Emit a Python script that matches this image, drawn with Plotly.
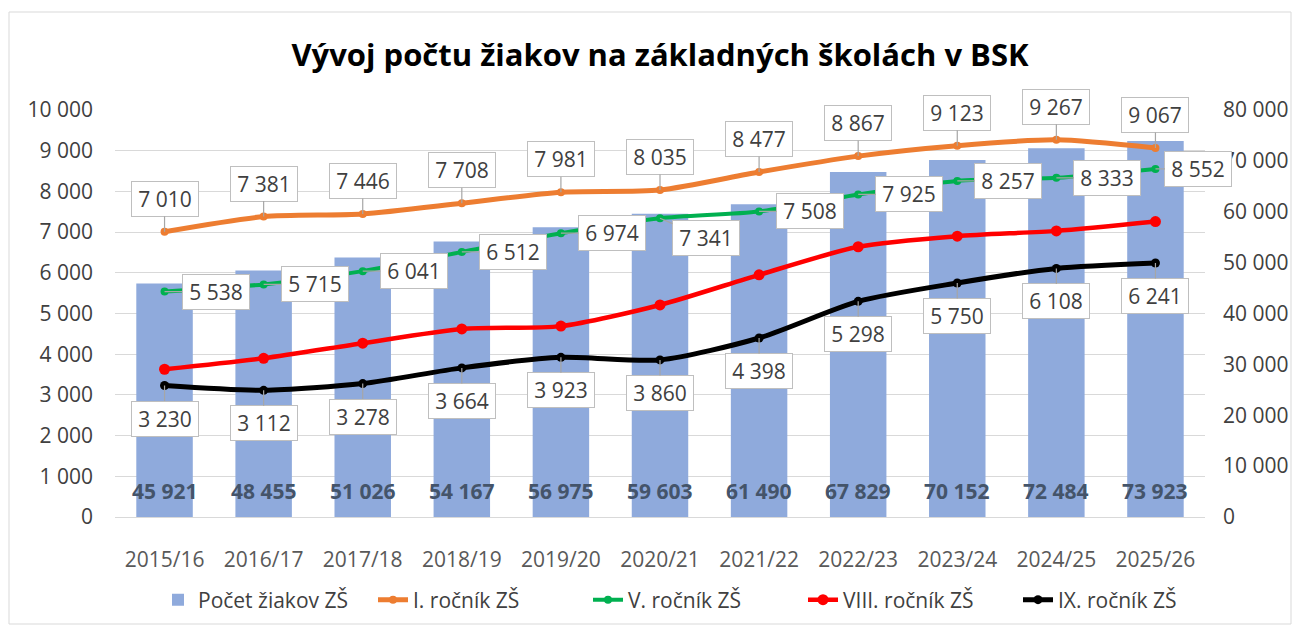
import plotly.graph_objects as go

categories = ["2015/16", "2016/17", "2017/18", "2018/19", "2019/20", "2020/21",
              "2021/22", "2022/23", "2023/24", "2024/25", "2025/26"]
pocet_zs = [45921, 48455, 51026, 54167, 56975, 59603, 61490, 67829, 70152, 72484, 73923]
rocnik_1 = [7010, 7381, 7446, 7708, 7981, 8035, 8477, 8867, 9123, 9267, 9067]
rocnik_5 = [5538, 5715, 6041, 6512, 6974, 7341, 7508, 7925, 8257, 8333, 8552]
rocnik_8 = [3630, 3900, 4270, 4620, 4690, 5210, 5950, 6640, 6900, 7030, 7260]
rocnik_9 = [3230, 3112, 3278, 3664, 3923, 3860, 4398, 5298, 5750, 6108, 6241]

FONT = "Open Sans"
LABEL_COLOR = "#404040"

# figure is placed 8px inside the page (body margin), so sizes are reduced by 8
W, H = 1292, 622
PL, PR, PT, PB = 107, 95, 102, 113
PW = W - PL - PR
PH = H - PT - PB


def px_x(fx):
    return (fx - PL) / PW


def px_y(fy):
    return (H - PB - fy) / PH


def fmt(v):
    return f"{v:,}".replace(",", " ")


fig = go.Figure()

fig.add_trace(go.Bar(
    x=categories, y=pocet_zs, name="Počet žiakov ZŠ",
    marker=dict(color="#8FAADC", line=dict(width=0)),
    yaxis="y", width=0.57,
))

line_series = [
    ("I. ročník ZŠ", rocnik_1, "#ED7D31", 5, 8),
    ("V. ročník ZŠ", rocnik_5, "#00B050", 4, 8),
    ("VIII. ročník ZŠ", rocnik_8, "#FF0000", 4.5, 11),
    ("IX. ročník ZŠ", rocnik_9, "#000000", 5, 9),
]
for name, vals, color, lw, ms in line_series:
    fig.add_trace(go.Scatter(
        x=categories, y=vals, name=name, yaxis="y2",
        mode="lines+markers",
        line=dict(color=color, width=lw, shape="spline", smoothing=0.7),
        marker=dict(color=color, size=ms, symbol="circle"),
    ))

annotations = []


def callout(xc, yv, text, ax, ay):
    return dict(
        x=xc, y=yv, xref="x", yref="y2", text=text,
        showarrow=True, arrowhead=0, arrowwidth=1.2, arrowcolor="#A6A6A6",
        ax=ax, ay=ay, standoff=0,
        bgcolor="white", bordercolor="#BFBFBF", borderwidth=1, borderpad=3,
        width=60, height=28,
        font=dict(family=FONT, size=21, color=LABEL_COLOR),
    )


for c, v in zip(categories, rocnik_1):
    annotations.append(callout(c, v, fmt(v), 0, -33))
for c, v in zip(categories, rocnik_5):
    if c == "2020/21":
        annotations.append(callout(c, v, fmt(v), 46, 20))
    elif c == categories[-1]:
        annotations.append(callout(c, v, fmt(v), 43, 0))
    else:
        annotations.append(callout(c, v, fmt(v), 51, 0))
for c, v in zip(categories, rocnik_9):
    annotations.append(callout(c, v, fmt(v), 0, 33))

for c, v in zip(categories, pocet_zs):
    annotations.append(dict(
        x=c, y=0, xref="x", yref="y", text=f"<b>{fmt(v)}</b>",
        showarrow=False, yshift=26, yanchor="middle",
        font=dict(family=FONT, size=21, color="#44546A"),
    ))

fig.update_layout(
    width=W, height=H,
    margin=dict(l=PL, r=PR, t=PT, b=PB, autoexpand=False),
    paper_bgcolor="white", plot_bgcolor="white",
    separators=", ",
    font=dict(family=FONT, color=LABEL_COLOR),
    title=dict(
        text="<b>Vývoj počtu žiakov na základných školách v BSK</b>",
        x=0.5, xref="paper", xanchor="center",
        y=1 - 47 / H, yref="container", yanchor="middle",
        font=dict(family=FONT, size=31, color="#000000"),
    ),
    bargap=0.43,
    xaxis=dict(
        type="category", range=[-0.5, len(categories) - 0.5], autorange=False,
        automargin=False,
        showgrid=False, showline=True, linecolor="#D9D9D9",
        linewidth=1, ticks="", ticklabelstandoff=24,
        tickfont=dict(family=FONT, size=21, color="#595959"),
    ),
    yaxis=dict(
        side="right", range=[0, 80000], dtick=10000, tickformat=",d",
        automargin=False,
        showgrid=False, zeroline=False, ticks="", ticklabelstandoff=17,
        tickfont=dict(family=FONT, size=21, color=LABEL_COLOR),
    ),
    yaxis2=dict(
        overlaying="y", side="left", range=[0, 10000], dtick=1000,
        automargin=False,
        tickformat=",d", showgrid=True, gridcolor="#D9D9D9", gridwidth=1,
        zeroline=True, zerolinecolor="#D9D9D9", ticks="", ticklabelstandoff=21,
        tickfont=dict(family=FONT, size=21, color=LABEL_COLOR),
    ),
    legend=dict(
        orientation="h", x=px_x(150), xanchor="left", y=px_y(592), yanchor="middle",
        font=dict(family=FONT, size=21, color=LABEL_COLOR),
        entrywidth=170, traceorder="normal",
    ),
    annotations=annotations,
    shapes=[dict(
        type="rect", xref="paper", yref="paper",
        x0=px_x(1), x1=px_x(1283), y0=px_y(616), y1=px_y(4),
        line=dict(color="#D9D9D9", width=1), fillcolor="rgba(0,0,0,0)",
        layer="below",
    )],
)

fig.write_html("out.html")
